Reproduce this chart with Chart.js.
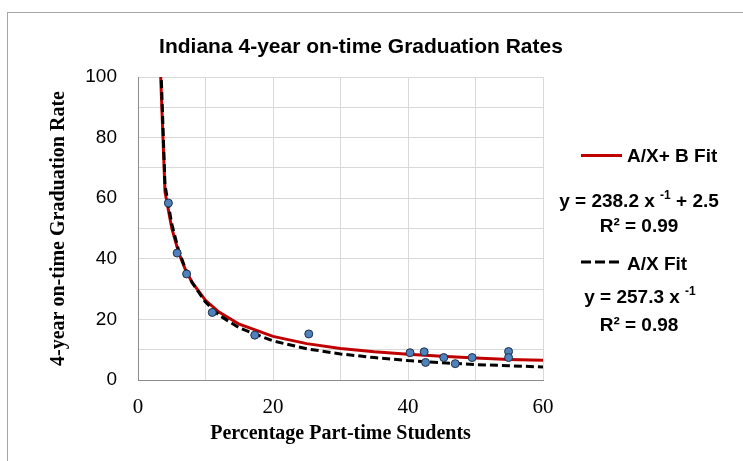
<!DOCTYPE html>
<html>
<head>
<meta charset="utf-8">
<script src="https://cdn.jsdelivr.net/npm/chart.js@4.4.1/dist/chart.umd.min.js"></script>
<style>
  html, body { margin: 0; padding: 0; background: #fff; }
  #wrap { width: 743px; height: 461px; }
</style>
</head>
<body>
<div id="wrap"><canvas id="grad-chart" width="743" height="461"></canvas></div>
<script>
// data
var partTime = [4.5, 5.8, 7.2, 11.0, 17.3, 25.3, 40.3, 42.4, 42.6, 45.3, 47.0, 49.5, 54.9, 54.9];
var gradRate = [58.4, 41.9, 35.0, 22.3, 14.8, 15.2, 9.0, 9.3, 5.8, 7.4, 5.4, 7.4, 9.4, 7.4];

// the two fit curves
var fitX   = [1, 4, 5, 6, 7, 8, 10, 12, 15, 20, 25, 30, 35, 40, 45, 50, 55, 60];
var fitAB  = [240.7, 62.1, 50.1, 42.2, 36.5, 32.3, 26.3, 22.4, 18.4, 14.4, 12.0, 10.4, 9.3, 8.5, 7.8, 7.3, 6.8, 6.5];
var fitA   = [257.3, 64.3, 51.5, 42.9, 36.8, 32.2, 25.7, 21.4, 17.2, 12.9, 10.3, 8.6, 7.4, 6.4, 5.7, 5.1, 4.7, 4.3];

var xTicks = [0, 20, 40, 60];
var yTicks = [0, 20, 40, 60, 80, 100];

function toPoints(xs, ys) {
    var pts = [];
    for (var i = 0; i < xs.length; i++) {
        pts.push({ x: xs[i], y: ys[i] });
    }
    return pts;
}

// draw a row of text pieces (some superscript) centred on cx
function drawRuns(ctx, runs, cx, baseline) {
    var total = 0;
    runs.forEach(function (r) {
        ctx.font = r.font;
        r.w = ctx.measureText(r.text).width;
        total += r.w;
    });
    var x = cx - total / 2;
    ctx.textAlign = 'left';
    ctx.textBaseline = 'alphabetic';
    runs.forEach(function (r) {
        ctx.font = r.font;
        ctx.fillText(r.text, x, baseline - (r.up || 0));
        x += r.w;
    });
}

var BIG = 'bold 19px "Liberation Sans"';
var SUP = 'bold 12px "Liberation Sans"';

var decorations = {
    id: 'decorations',
    beforeDraw: function (chart) {
        var ctx = chart.ctx;
        ctx.save();
        ctx.strokeStyle = '#a6a6a6';
        ctx.lineWidth = 1;
        ctx.strokeRect(7.5, 12.5, 900, 600);
        ctx.restore();
    },
    afterDraw: function (chart) {
        var ctx = chart.ctx;
        ctx.save();
        ctx.fillStyle = '#000';

        // title
        ctx.font = 'bold 21px "Liberation Sans"';
        ctx.textAlign = 'center';
        ctx.textBaseline = 'alphabetic';
        ctx.fillText('Indiana 4-year on-time Graduation Rates', 361, 53);

        // legend: A/X + B fit
        ctx.strokeStyle = '#c00000';
        ctx.lineWidth = 3;
        ctx.beginPath();
        ctx.moveTo(581, 155.5);
        ctx.lineTo(622, 155.5);
        ctx.stroke();
        ctx.font = BIG;
        ctx.textAlign = 'left';
        ctx.fillText('A/X+ B Fit', 627, 161.5);
        drawRuns(ctx, [
            { text: 'y = 238.2 x ', font: BIG },
            { text: '-1', font: SUP, up: 8 },
            { text: ' + 2.5', font: BIG }
        ], 639, 207);
        drawRuns(ctx, [{ text: 'R² = 0.99', font: BIG }], 639, 231.5);

        // legend: A/X fit
        ctx.strokeStyle = '#000';
        ctx.setLineDash([10, 4]);
        ctx.beginPath();
        ctx.moveTo(581, 262);
        ctx.lineTo(619, 262);
        ctx.stroke();
        ctx.setLineDash([]);
        ctx.font = BIG;
        ctx.textAlign = 'left';
        ctx.fillText('A/X Fit', 627, 269.5);
        drawRuns(ctx, [
            { text: 'y = 257.3 x ', font: BIG },
            { text: '-1', font: SUP, up: 8 }
        ], 640, 303);
        drawRuns(ctx, [{ text: 'R² = 0.98', font: BIG }], 639, 330.5);

        ctx.restore();
    }
};

var ctx = document.getElementById('grad-chart').getContext('2d');
var gradChart = new Chart(ctx, {
    type: 'scatter',
    data: {
        datasets: [
            {
                label: 'Data',
                data: toPoints(partTime, gradRate),
                backgroundColor: '#4f81bd',
                borderColor: '#1f2f45',
                borderWidth: 1,
                pointRadius: 4,
                order: 0
            },
            {
                label: 'A/X Fit',
                data: toPoints(fitX, fitA),
                showLine: true,
                borderColor: '#000',
                borderWidth: 3,
                borderDash: [8, 4],
                pointRadius: 0,
                tension: 0,
                order: 1
            },
            {
                label: 'A/X+ B Fit',
                data: toPoints(fitX, fitAB),
                showLine: true,
                borderColor: '#c00000',
                borderWidth: 3,
                pointRadius: 0,
                tension: 0,
                order: 2
            }
        ]
    },
    options: {
        responsive: false,
        animation: false,
        layout: { padding: { top: 77, right: 200, left: 0, bottom: 0 } },
        plugins: {
            legend: { display: false },
            title: { display: false },
            tooltip: { enabled: false }
        },
        scales: {
            x: {
                type: 'linear',
                min: 0,
                max: 60,
                afterFit: function (s) { s.height = 81; },
                grid: { color: '#d9d9d9', drawTicks: false },
                border: { color: '#8c8c8c' },
                ticks: {
                    stepSize: 10,
                    autoSkip: false,
                    maxRotation: 0,
                    padding: 15,
                    color: '#000',
                    font: { family: '"Liberation Serif"', size: 21 },
                    callback: function (v) { return xTicks.indexOf(v) >= 0 ? v : ''; }
                },
                title: {
                    display: true,
                    text: 'Percentage Part-time Students',
                    color: '#000',
                    font: { family: '"Liberation Serif"', size: 20, weight: 'bold' },
                    padding: { top: 0, bottom: 15 }
                }
            },
            y: {
                type: 'linear',
                min: 0,
                max: 100,
                afterFit: function (s) { s.width = 138; },
                grid: { color: '#d9d9d9', drawTicks: false },
                border: { color: '#8c8c8c' },
                ticks: {
                    stepSize: 10,
                    autoSkip: false,
                    padding: 21,
                    color: '#000',
                    font: { family: '"Liberation Sans"', size: 19 },
                    callback: function (v) { return yTicks.indexOf(v) >= 0 ? v : ''; }
                },
                title: {
                    display: true,
                    text: '4-year on-time Graduation Rate',
                    color: '#000',
                    font: { family: '"Liberation Serif"', size: 20, weight: 'bold' },
                    padding: { top: 47, bottom: 0 }
                }
            }
        }
    },
    plugins: [decorations]
});
</script>
</body>
</html>
